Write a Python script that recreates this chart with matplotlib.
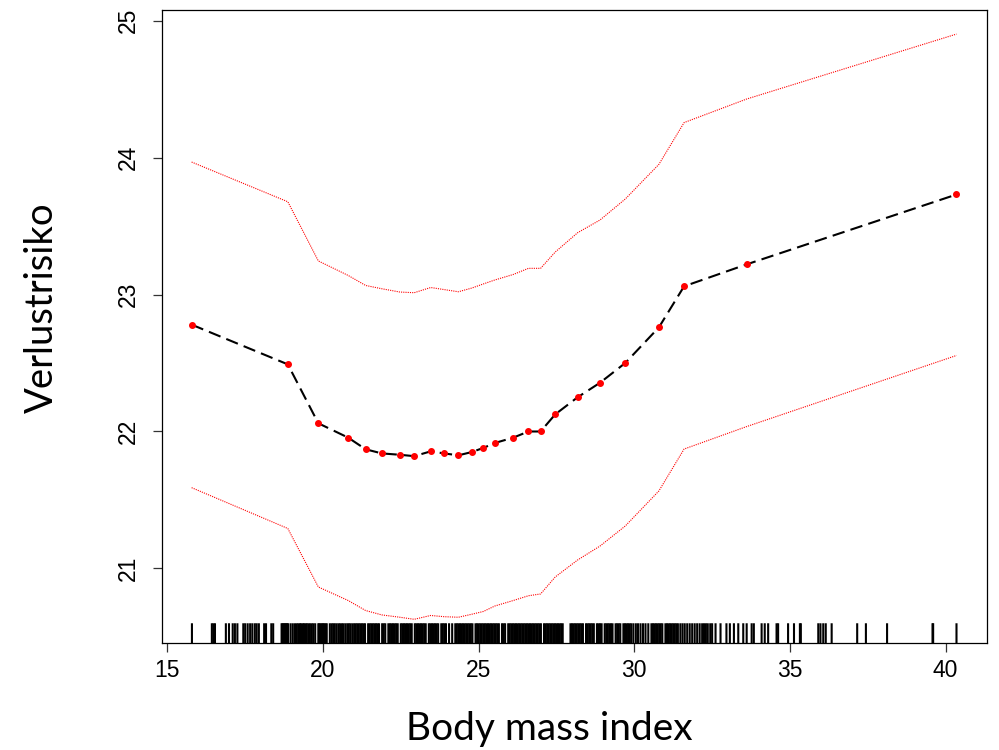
import matplotlib
matplotlib.use("Agg")
import matplotlib.pyplot as plt
import matplotlib.transforms as mtransforms

plt.rcParams.update({
    "font.family": ["Liberation Sans", "DejaVu Sans"],
    "font.size": 16.5,
    "axes.linewidth": 0.9,
})

# Geglätteter Verlauf (Punkte der Kurve) und Konfidenzband
bmi = [15.78, 18.87, 19.85, 20.81, 21.37, 21.89, 22.47, 22.93, 23.46, 23.89,
       24.35, 24.78, 25.15, 25.52, 26.11, 26.60, 26.99, 27.46, 28.18, 28.90,
       29.71, 30.79, 31.60, 33.61, 40.35]
risk = [22.78, 22.49, 22.06, 21.955, 21.87, 21.84, 21.83, 21.82, 21.855, 21.84,
        21.826, 21.85, 21.88, 21.916, 21.955, 22.0, 22.0, 22.125, 22.25, 22.356,
        22.5, 22.76, 23.06, 23.22, 23.73]
upper = [23.967, 23.677, 23.245, 23.139, 23.066, 23.042, 23.018, 23.013, 23.051, 23.036,
         23.02, 23.047, 23.077, 23.106, 23.146, 23.191, 23.191, 23.31, 23.451, 23.544,
         23.697, 23.95, 24.255, 24.427, 24.901]
lower = [21.59, 21.292, 20.865, 20.766, 20.693, 20.661, 20.644, 20.629, 20.657, 20.648,
         20.644, 20.666, 20.686, 20.726, 20.766, 20.801, 20.814, 20.938, 21.062, 21.164,
         21.31, 21.566, 21.872, 22.036, 22.555]

# Rug: beobachtete BMI-Werte
rug_bmi = [
    15.79, 16.43, 16.48, 16.53, 16.88, 16.98, 17.10, 17.17, 17.25, 17.44,
    17.50, 17.58, 17.66, 17.73, 17.81, 17.87, 17.94, 18.11, 18.17, 18.34,
    18.40, 18.67, 18.70, 18.73, 18.76, 18.79, 18.82, 18.85, 18.88, 18.96,
    19.03, 19.10, 19.16, 19.21, 19.26, 19.30, 19.35, 19.39, 19.44, 19.48,
    19.53, 19.58, 19.64, 19.69, 19.75, 19.85, 19.88, 19.92, 19.96, 20.00,
    20.04, 20.08, 20.12, 20.22, 20.28, 20.33, 20.38, 20.44, 20.50, 20.55,
    20.61, 20.66, 20.72, 20.78, 20.83, 20.88, 20.94, 21.00, 21.05,
    21.10, 21.15, 21.20, 21.25, 21.30, 21.35, 21.45, 21.50, 21.55, 21.60,
    21.65, 21.70, 21.75, 21.80, 21.90, 21.95, 22.00, 22.10, 22.15, 22.20,
    22.25, 22.30, 22.35, 22.40, 22.50, 22.55, 22.60, 22.65, 22.70, 22.75,
    22.80, 22.85, 22.95, 23.00, 23.05, 23.10, 23.15, 23.20, 23.25, 23.30,
    23.40, 23.45, 23.50, 23.55, 23.60, 23.65, 23.70, 23.80, 23.85, 23.90,
    23.95, 24.05, 24.15, 24.25, 24.30, 24.35, 24.40, 24.45, 24.50, 24.55,
    24.60, 24.65, 24.70, 24.75, 24.80, 24.90, 24.95, 25.00, 25.05, 25.10,
    25.15, 25.20, 25.25, 25.30, 25.35, 25.40, 25.45, 25.50, 25.55, 25.60,
    25.65, 25.75, 25.80, 25.85, 25.95, 26.00, 26.05, 26.10, 26.15, 26.20,
    26.25, 26.30, 26.35, 26.40, 26.45, 26.50, 26.55, 26.60, 26.65, 26.70,
    26.75, 26.80, 26.85, 26.90, 26.95, 27.00, 27.10, 27.15, 27.20, 27.25,
    27.30, 27.35, 27.40, 27.45, 27.50, 27.55, 27.60, 27.65, 27.70, 27.95,
    28.00, 28.05, 28.10, 28.15, 28.20, 28.25, 28.30, 28.35, 28.45, 28.50,
    28.55, 28.60, 28.65, 28.70, 28.80, 28.85, 28.90, 28.95, 29.05, 29.10,
    29.15, 29.20, 29.25, 29.30, 29.40, 29.45, 29.50, 29.55, 29.65, 29.70,
    29.75, 29.80, 29.85, 29.90, 29.97, 30.05, 30.12, 30.20, 30.28, 30.36,
    30.45, 30.55, 30.60, 30.65, 30.70, 30.75, 30.80, 30.85, 30.90, 31.00,
    31.05, 31.10, 31.15, 31.20, 31.25, 31.30, 31.35, 31.40, 31.48, 31.55,
    31.62, 31.70, 31.78, 31.86, 31.94, 32.02, 32.10, 32.18, 32.24, 32.30,
    32.36, 32.44, 32.50, 32.61, 32.77, 32.96, 33.07, 33.20, 33.34, 33.50,
    33.61, 33.77, 33.84, 34.09, 34.19, 34.30, 34.57, 34.62, 34.94, 35.13,
    35.32, 35.35, 35.91, 35.98, 36.07, 36.15, 36.34, 37.16, 37.44, 38.12,
    39.58, 39.60, 40.35,
]

x_ticks = [15, 20, 25, 30, 35, 40]
y_ticks = [21, 22, 23, 24, 25]

fig = plt.figure(figsize=(9.99, 7.5), dpi=100)
ax = fig.add_axes([0.1619, 0.1423, 0.8264, 0.8444])

# Konfidenzband (rot gepunktet)
ax.plot(bmi, upper, color="red", lw=0.8, linestyle=(0, (1, 1)))
ax.plot(bmi, lower, color="red", lw=0.8, linestyle=(0, (1, 1)))

# Schätzung
ax.plot(bmi, risk, color="black", lw=1.5, linestyle=(0, (6, 3)), zorder=3)
ax.plot(bmi, risk, "o", color="red", ms=4, mec="red", zorder=4)

# Rug
trans = mtransforms.blended_transform_factory(ax.transData, ax.transAxes)
ax.vlines(rug_bmi, 0, 0.0316, transform=trans, color="black", lw=1.5, snap=False)

ax.set_xlim(14.82, 41.34)
ax.set_ylim(20.454, 25.077)
ax.set_xticks(x_ticks)
ax.set_yticks(y_ticks)
ax.tick_params(length=6.5, width=0.9, color="#333333", direction="out")
ax.tick_params(axis="x", pad=5)
ax.tick_params(axis="y", labelrotation=90, pad=9)
for lab in ax.get_yticklabels():
    lab.set_verticalalignment("center")

fig.text(0.55, 0.013, "Body mass index", fontsize=28, family="Lato",
         ha="center", va="baseline")
fig.text(0.042, 0.59, "Verlustrisiko", fontsize=27.5, family="Lato",
         rotation=90, ha="center", va="center")

fig.savefig("out.png", dpi=100)
